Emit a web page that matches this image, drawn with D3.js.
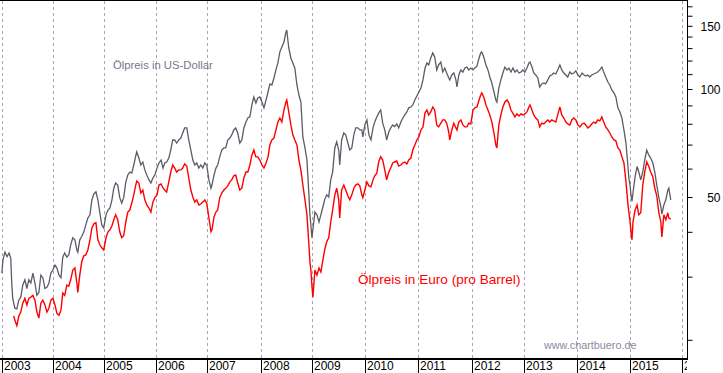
<!DOCTYPE html>
<html><head><meta charset="utf-8">
<script src="https://cdn.jsdelivr.net/npm/d3@7"></script>
<style>
body{margin:0;background:#fff}
svg{display:block}
text{font-family:"Liberation Sans",Arial,Helvetica,sans-serif}
</style></head>
<body><svg id="chart" width="723" height="373"></svg>
<script>
// ---------- data ----------
const years = ["2003","2004","2005","2006","2007","2008","2009","2010","2011","2012","2013","2014","2015","2016"];
const yMinorTicks = [20,30,40,50,60,70,80,90,100,110,120,130,140,150,160,170];
const yLabelTicks = [50,100,150];

const dates = [
"2003-01-02","2003-01-10","2003-01-24","2003-02-08","2003-02-22","2003-03-06","2003-03-13","2003-03-20","2003-03-27","2003-04-04","2003-04-18","2003-05-02","2003-05-16","2003-05-30","2003-06-14","2003-06-28","2003-07-12","2003-07-26","2003-08-10","2003-08-24","2003-09-07","2003-09-21","2003-10-05","2003-10-19","2003-11-03","2003-11-17","2003-12-01","2003-12-15","2003-12-29",
"2004-01-13","2004-01-27","2004-02-11","2004-02-25","2004-03-09","2004-03-23","2004-04-07","2004-04-21","2004-05-05","2004-05-20","2004-06-04","2004-06-18","2004-06-25","2004-07-09","2004-07-23","2004-08-07","2004-08-21","2004-09-05","2004-09-20","2004-10-04","2004-10-18","2004-11-02","2004-11-16","2004-11-30","2004-12-14","2004-12-28",
"2005-01-13","2005-01-27","2005-02-10","2005-02-24","2005-03-09","2005-03-22","2005-04-06","2005-04-20","2005-05-04","2005-05-18","2005-06-02","2005-06-16","2005-06-30","2005-07-14","2005-07-28","2005-08-11","2005-08-18","2005-09-02","2005-09-16","2005-09-30","2005-10-14","2005-10-28","2005-11-12","2005-11-26","2005-12-10","2005-12-24",
"2006-01-08","2006-01-22","2006-02-06","2006-02-20","2006-03-04","2006-03-18","2006-04-02","2006-04-16","2006-04-30","2006-05-14","2006-05-28","2006-06-12","2006-06-26","2006-07-10","2006-07-24","2006-08-08","2006-08-22","2006-09-06","2006-09-20","2006-10-04","2006-10-18","2006-11-02","2006-11-16","2006-11-30","2006-12-14","2006-12-28",
"2007-01-12","2007-01-26","2007-02-02","2007-02-16","2007-03-01","2007-03-13","2007-03-27","2007-04-10","2007-04-24","2007-05-07","2007-05-21","2007-06-04","2007-06-17","2007-07-01","2007-07-14","2007-07-28","2007-08-11","2007-08-25","2007-09-08","2007-09-22","2007-10-05","2007-10-19","2007-11-02","2007-11-15","2007-11-29","2007-12-12","2007-12-26",
"2008-01-10","2008-01-24","2008-02-08","2008-02-22","2008-03-06","2008-03-20","2008-04-04","2008-04-18","2008-05-02","2008-05-16","2008-05-30","2008-06-14","2008-06-28","2008-07-04","2008-07-18","2008-08-02","2008-08-16","2008-08-30","2008-09-14","2008-09-28","2008-10-12","2008-10-26","2008-11-10","2008-11-24","2008-12-08","2008-12-15","2008-12-22","2008-12-29",
"2009-01-05","2009-01-19","2009-02-02","2009-02-16","2009-03-01","2009-03-13","2009-03-27","2009-04-10","2009-04-24","2009-05-08","2009-05-21","2009-06-05","2009-06-18","2009-07-02","2009-07-09","2009-07-22","2009-08-06","2009-08-19","2009-09-03","2009-09-16","2009-09-30","2009-10-14","2009-10-27","2009-11-11","2009-11-24","2009-12-08","2009-12-15","2009-12-29",
"2010-01-12","2010-01-26","2010-02-09","2010-02-23","2010-03-07","2010-03-21","2010-04-04","2010-04-17","2010-05-01","2010-05-15","2010-05-28","2010-06-12","2010-06-25","2010-07-09","2010-07-22","2010-08-06","2010-08-19","2010-09-03","2010-09-16","2010-09-30","2010-10-14","2010-10-27","2010-11-11","2010-11-24","2010-12-08","2010-12-22",
"2011-01-05","2011-01-19","2011-02-02","2011-02-16","2011-03-01","2011-03-13","2011-03-27","2011-04-10","2011-04-23","2011-05-07","2011-05-20","2011-06-04","2011-06-17","2011-07-01","2011-07-14","2011-07-28","2011-08-04","2011-08-18","2011-09-01","2011-09-15","2011-09-22","2011-10-05","2011-10-19","2011-11-02","2011-11-15","2011-11-29","2011-12-12","2011-12-26",
"2012-01-10","2012-01-23","2012-02-07","2012-02-21","2012-03-04","2012-03-11","2012-03-25","2012-04-09","2012-04-23","2012-05-06","2012-05-20","2012-06-04","2012-06-17","2012-06-24","2012-07-08","2012-07-22","2012-08-05","2012-08-19","2012-09-03","2012-09-16","2012-09-30","2012-10-14","2012-10-28","2012-11-11","2012-11-25","2012-12-09","2012-12-22",
"2013-01-05","2013-01-19","2013-02-02","2013-02-09","2013-02-23","2013-03-07","2013-03-21","2013-04-04","2013-04-17","2013-05-01","2013-05-15","2013-05-28","2013-06-12","2013-06-25","2013-07-09","2013-07-22","2013-08-06","2013-08-19","2013-09-03","2013-09-16","2013-09-30","2013-10-14","2013-10-27","2013-11-11","2013-11-24","2013-12-08","2013-12-22",
"2014-01-05","2014-01-19","2014-02-03","2014-02-17","2014-03-01","2014-03-14","2014-03-28","2014-04-11","2014-04-25","2014-05-09","2014-05-22","2014-06-06","2014-06-20","2014-07-03","2014-07-17","2014-08-01","2014-08-14","2014-08-28","2014-09-12","2014-09-25","2014-10-09","2014-10-23","2014-11-06","2014-11-20","2014-12-04","2014-12-17","2014-12-24",
"2015-01-01","2015-01-08","2015-01-15","2015-01-22","2015-02-06","2015-02-20","2015-03-04","2015-03-18","2015-04-01","2015-04-15","2015-04-29","2015-05-13","2015-05-27","2015-06-11","2015-06-25","2015-07-09","2015-07-23","2015-08-07","2015-08-14","2015-08-28","2015-09-11","2015-09-25","2015-10-02","2015-10-16"
];

const usd = [
30.7,33.4,35.1,34.1,34.9,33.8,28.8,26.1,25.3,24.5,24.4,25.8,26.3,28.4,29.4,27.8,29.4,28.8,30.7,28.8,26.6,27.1,30.3,29.8,27.8,28.0,28.8,30.7,31.3,
32.3,31.7,30.3,29.8,34.0,34.9,34.0,34.5,36.8,38.5,38.0,35.6,35.1,38.0,38.8,40.0,41.8,43.7,44.6,49.1,51.0,51.7,49.1,45.2,41.8,41.0,
44.6,46.0,46.6,49.1,52.9,54.7,54.0,49.8,48.1,49.8,55.1,57.6,58.7,58.3,61.4,65.1,66.8,64.2,61.4,62.6,59.5,57.6,55.8,54.7,56.5,57.6,
60.2,62.2,63.4,60.2,62.2,62.6,64.2,67.6,72.1,72.1,70.7,72.1,73.0,75.4,77.9,77.9,72.1,67.6,63.4,61.4,62.2,60.2,61.4,60.2,62.2,61.4,
55.8,52.9,54.0,57.6,60.2,61.4,64.7,67.6,68.5,68.5,72.1,73.0,74.5,76.9,77.9,75.4,70.7,72.1,77.9,80.9,83.0,83.6,90.3,95.0,91.4,94.4,95.0,
92.0,88.6,93.2,98.1,103.3,102.6,107.3,113.0,118.2,126.9,130.9,135.2,144.1,146.0,130.1,122.0,118.2,114.4,102.6,96.2,92.0,73.5,68.5,63.4,50.7,44.6,41.8,38.5,
40.5,45.4,44.6,42.6,44.6,46.6,49.1,50.7,50.0,55.8,58.7,68.5,71.2,67.6,61.4,72.1,75.4,74.5,70.7,67.6,68.5,74.5,77.9,77.9,76.9,76.9,73.5,79.4,
82.0,74.5,72.1,77.9,80.9,83.6,85.8,87.4,80.3,76.9,72.1,75.9,77.9,79.4,78.6,79.9,77.9,80.9,83.0,84.7,86.3,88.6,89.1,90.3,93.2,95.6,
98.1,100.6,106.0,114.4,118.2,116.7,122.0,126.0,122.8,113.0,116.7,118.9,111.5,114.4,110.8,107.3,106.0,109.4,110.8,106.0,101.3,109.4,113.0,111.5,114.4,115.1,113.0,114.4,
113.0,114.4,115.9,122.0,126.0,126.8,122.8,116.7,113.0,108.0,103.9,98.1,93.2,92.0,100.6,106.0,110.8,115.1,113.0,114.4,111.5,114.4,111.5,113.0,110.8,111.5,113.0,
111.5,114.4,118.2,118.9,115.1,110.8,109.4,107.3,101.3,103.3,103.9,103.3,106.0,108.7,109.4,110.8,110.1,113.0,116.7,113.0,110.8,109.4,108.0,111.5,110.1,110.8,112.3,
109.4,108.0,110.8,109.4,108.7,109.4,108.0,109.4,110.1,110.8,111.5,113.0,115.1,111.5,108.0,104.6,102.6,99.4,97.5,95.0,88.6,86.3,83.0,76.9,70.7,61.4,56.5,
54.0,50.7,48.7,51.3,57.0,60.8,58.7,55.8,58.7,63.4,67.6,65.5,64.2,62.2,58.7,54.0,50.0,47.0,44.8,47.5,49.1,52.3,52.9,49.1
];

const eur = [
null,null,null,null,null,null,null,null,23.3,22.7,21.9,23.3,23.9,25.3,26.1,25.0,26.1,26.3,26.6,25.8,23.9,23.0,25.3,25.8,25.0,23.9,24.5,25.8,26.1,
25.0,23.7,23.4,24.2,27.0,26.6,28.4,28.2,29.4,31.3,31.7,28.8,27.1,30.3,33.0,34.3,34.5,35.6,38.0,41.0,42.1,42.4,38.0,36.8,36.1,35.6,
38.5,40.0,40.5,41.6,43.2,44.6,43.2,40.0,38.5,39.0,42.6,45.4,46.0,48.1,50.7,54.0,55.4,54.7,51.3,52.3,49.1,47.5,46.6,45.4,48.4,49.8,
50.7,54.0,54.4,53.0,52.3,51.6,55.1,58.7,61.4,60.2,58.7,59.5,59.5,60.2,61.8,61.0,56.5,52.3,50.0,48.4,49.1,47.5,47.8,48.4,49.1,48.1,
43.7,40.0,40.5,44.0,45.4,46.0,49.8,51.3,52.3,52.9,53.7,55.1,55.8,57.3,57.6,54.7,52.3,52.9,56.5,58.7,58.7,61.4,65.5,67.6,64.7,64.7,63.4,
61.4,60.2,62.2,64.7,69.8,72.1,73.0,76.9,80.9,83.0,80.9,87.4,92.0,93.2,86.3,79.4,74.5,72.1,69.8,63.4,59.5,54.0,49.1,44.6,36.8,33.0,31.3,28.4,
26.3,31.3,30.3,31.7,30.9,33.0,35.6,37.5,38.5,42.6,46.0,50.7,52.9,49.1,43.7,52.3,54.0,52.3,50.4,49.1,50.7,52.9,54.0,54.4,53.7,50.7,49.8,52.3,
55.1,53.7,53.4,55.8,57.3,58.3,62.8,64.7,63.4,59.5,55.8,58.7,60.2,62.2,62.6,63.0,61.0,61.4,62.2,62.6,61.8,63.4,64.2,67.6,69.8,72.1,
73.5,76.9,78.4,85.8,87.4,84.7,86.3,89.1,87.4,79.4,78.4,80.3,82.0,82.0,80.3,75.9,72.1,76.9,80.3,77.9,76.9,80.9,82.0,79.4,78.4,78.4,80.3,79.9,
87.4,88.6,89.1,93.2,96.2,97.5,95.0,90.3,87.4,84.7,80.9,75.4,69.8,68.5,79.4,84.7,89.1,92.0,93.2,91.4,87.4,85.5,83.6,85.2,84.1,85.2,84.7,
85.2,86.3,89.1,90.3,87.4,84.7,83.0,82.0,78.4,80.3,79.9,80.9,82.0,80.9,82.0,81.5,80.9,84.7,89.1,84.7,83.0,80.9,79.9,79.4,82.0,83.0,82.0,
79.4,78.4,79.9,80.3,79.4,77.9,78.6,79.9,80.9,80.3,82.0,81.5,83.6,80.9,78.4,76.9,75.4,73.5,72.1,71.7,68.5,67.6,64.7,62.2,55.1,48.1,45.4,
42.8,40.0,38.0,42.6,46.0,47.5,44.6,45.2,54.0,58.7,62.6,61.0,58.7,57.0,52.9,50.4,45.4,42.6,38.7,44.6,43.2,45.2,43.7,43.4
];

// ---------- chart ----------
const W = 723, H = 373;
const plotRight = 687, plotBottom = 359;
const svg = d3.select("#chart");
const parse = d3.timeParse("%Y-%m-%d");

const yearDates = years.map(y => new Date(+y, 0, 1));
// piecewise time scale (the original spaces years by trading days)
const x = d3.scaleTime()
  .domain(yearDates)
  .range([1.7, 53.3, 104.3, 156, 207.3, 260.7, 312.3, 365.3, 418.3, 471.7, 524.3, 577.3, 630, 681.7]);
const y = d3.scaleLog().domain([17.8, 177]).range([358, 0]);

const rows = dates.map((d, i) => ({ t: parse(d), usd: usd[i], eur: eur[i] }));

svg.append("rect").attr("width", W).attr("height", H).attr("fill", "#fff");

// clip paths
const defs = svg.append("defs");
defs.append("clipPath").attr("id", "plotClip").append("rect")
  .attr("x", 0).attr("y", 0).attr("width", plotRight).attr("height", plotBottom);
defs.append("clipPath").attr("id", "labelClip").append("rect")
  .attr("x", 0).attr("y", plotBottom).attr("width", plotRight).attr("height", H - plotBottom);

// vertical dashed year grid
svg.append("g").selectAll("line").data(yearDates).join("line")
  .attr("x1", d => Math.round(x(d)) + 0.5).attr("x2", d => Math.round(x(d)) + 0.5)
  .attr("y1", 1).attr("y2", plotBottom - 1)
  .attr("stroke", "#aaa4b4").attr("stroke-width", 1)
  .attr("stroke-dasharray", "3,3");

// watermark and series labels
svg.append("text").attr("x", 113).attr("y", 69)
  .attr("font-size", "11.3px").attr("fill", "#77778a")
  .text("Ölpreis in US-Dollar");
svg.append("text").attr("x", 358).attr("y", 284)
  .attr("font-size", "13.6px").attr("fill", "#ff0000")
  .text("Ölpreis in Euro (pro Barrel)");
svg.append("text").attr("x", 544).attr("y", 349)
  .attr("font-size", "10.8px").attr("fill", "#8a8aa0")
  .text("www.chartbuero.de");

// lines
const lineGen = key => d3.line()
  .defined(d => d[key] != null)
  .x(d => x(d.t))
  .y(d => y(d[key]));

const lines = svg.append("g").attr("clip-path", "url(#plotClip)");
lines.append("path").datum(rows)
  .attr("d", lineGen("eur"))
  .attr("fill", "none").attr("stroke", "#ff0000").attr("stroke-width", 1.4)
  .attr("stroke-linejoin", "miter");
lines.append("path").datum(rows)
  .attr("d", lineGen("usd"))
  .attr("fill", "none").attr("stroke", "#5c5c66").attr("stroke-width", 1.3)
  .attr("stroke-linejoin", "miter");

// frame: top line, bottom axis line
svg.append("line").attr("x1", 0).attr("x2", plotRight + 1).attr("y1", 0.5).attr("y2", 0.5)
  .attr("stroke", "#000").attr("stroke-width", 1);
svg.append("line").attr("x1", 0).attr("x2", plotRight + 1).attr("y1", plotBottom).attr("y2", plotBottom)
  .attr("stroke", "#000").attr("stroke-width", 2);

// right axis (log)
const yAxis = d3.axisRight(y)
  .tickValues(yMinorTicks)
  .tickSize(5)
  .tickPadding(0)
  .tickFormat(d => yLabelTicks.includes(d) ? String(d) : "");
const ya = svg.append("g").attr("transform", `translate(${plotRight + 0.5},0)`).call(yAxis);
ya.select(".domain").attr("d", `M0,0V${plotBottom}`).attr("stroke", "#000");
ya.selectAll(".tick line").attr("stroke", "#000");
ya.selectAll(".tick text")
  .attr("x", 33).attr("text-anchor", "end").attr("dy", "0.36em")
  .attr("font-size", "12px").attr("font-family", '"Liberation Sans",Arial,sans-serif')
  .attr("fill", "#000");

// bottom year separators and labels
const xb = svg.append("g");
xb.selectAll("line").data(yearDates).join("line")
  .attr("x1", d => Math.round(x(d)) + 0.5).attr("x2", d => Math.round(x(d)) + 0.5)
  .attr("y1", plotBottom).attr("y2", H)
  .attr("stroke", "#000").attr("stroke-width", 1);
xb.append("g").attr("clip-path", "url(#labelClip)")
  .selectAll("text").data(yearDates).join("text")
  .attr("x", d => Math.round(x(d)) + 2)
  .attr("y", 370)
  .attr("font-size", "12px").attr("fill", "#000")
  .text((d, i) => years[i]);
</script>
</body></html>
